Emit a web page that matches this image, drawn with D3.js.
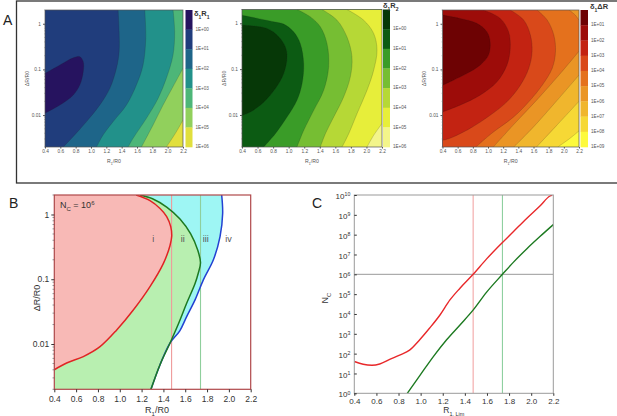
<!DOCTYPE html>
<html>
<head>
<meta charset="utf-8">
<script src="https://cdn.jsdelivr.net/npm/d3@7"></script>
<style>
  html, body { margin: 0; padding: 0; background: #fff; }
  svg { display: block; }
</style>
</head>
<body>
<svg id="fig" width="617" height="416"></svg>
<script>
// ---------------- values ----------------
const x_ticks = [0.4, 0.6, 0.8, 1.0, 1.2, 1.4, 1.6, 1.8, 2.0, 2.2];
const log_ticks = [0.01, 0.1, 1];
const log_tick_labels = ['0.01', '0.1', '1'];

// colour bar labels of panel A
const r1_bar_labels = ['1E+00', '1E+01', '1E+02', '1E+03', '1E+04', '1E+05', '1E+06'];
const r2_bar_labels = ['1E+00', '1E+01', '1E+02', '1E+03', '1E+04', '1E+05', '1E+06'];
const dr_bar_labels = ['1E+01', '1E+02', '1E+03', '1E+04', '1E+05', '1E+06', '1E+07', '1E+08', '1E+09'];

// contour lines [R1/R0, dR/R0]; level = band on the right hand side of the line
const r1_contours = [
  {level: 1, pts: [[0.4, 0.011], [0.595, 0.0166], [0.769, 0.0275], [0.855, 0.046], [0.899, 0.089],
                   [0.899, 0.148], [0.855, 0.19], [0.769, 0.18], [0.595, 0.125], [0.4, 0.082]]},
  {level: 2, pts: [[0.638, 0.002], [0.769, 0.0034], [0.942, 0.0072], [1.115, 0.0166], [1.246, 0.0385],
                   [1.332, 0.106], [1.367, 0.245], [1.367, 0.67], [1.354, 2]]},
  {level: 3, pts: [[1.072, 0.002], [1.159, 0.0037], [1.289, 0.0072], [1.462, 0.0166], [1.593, 0.046],
                   [1.679, 0.125], [1.714, 0.48], [1.701, 2]]},
  {level: 4, pts: [[1.484, 0.002], [1.549, 0.0031], [1.723, 0.0085], [1.874, 0.023], [1.983, 0.064],
                   [2.07, 0.207], [2.091, 0.67], [2.07, 2]]},
  {level: 5, pts: [[1.658, 0.002], [1.81, 0.0061], [1.94, 0.0166], [2.07, 0.042], [2.2, 0.106]]},
  {level: 6, pts: [[1.983, 0.002], [2.113, 0.0043], [2.2, 0.0078]]}
];

const r2_contours = [
  {level: 1, pts: [[0.4, 0.0098], [0.507, 0.0116], [0.679, 0.019], [0.829, 0.0376], [0.936, 0.08],
                   [0.979, 0.185], [0.957, 0.305], [0.871, 0.51], [0.721, 0.77], [0.4, 0.91]]},
  {level: 2, pts: [[0.679, 0.002], [0.829, 0.0039], [0.979, 0.009], [1.107, 0.021], [1.172, 0.048],
                   [1.193, 0.132], [1.15, 0.36], [1.064, 0.65], [0.936, 0.96], [0.807, 1.08], [0.4, 1.5]]},
  {level: 3, pts: [[1.107, 0.002], [1.193, 0.0046], [1.322, 0.0126], [1.45, 0.0345], [1.514, 0.112],
                   [1.493, 0.36], [1.407, 0.84], [1.279, 1.38], [1.107, 2]]},
  {level: 4, pts: [[1.407, 0.002], [1.472, 0.0039], [1.579, 0.009], [1.707, 0.0247], [1.793, 0.068],
                   [1.814, 0.185], [1.75, 0.5], [1.622, 1.17], [1.429, 2]]},
  {level: 5, pts: [[1.686, 0.002], [1.772, 0.0039], [1.879, 0.0107], [2.007, 0.0345], [2.093, 0.095],
                   [2.136, 0.26], [2.093, 0.6], [1.964, 1.17], [1.75, 2]]},
  {level: 6, pts: [[2.007, 0.002], [2.093, 0.0036], [2.2, 0.0065]]}
];

const dr_contours = [
  {level: 1, pts: [[0.4, 0.045], [0.542, 0.058], [0.718, 0.081], [0.895, 0.124], [1.006, 0.206],
                   [1.028, 0.40], [0.984, 0.67], [0.851, 1.02], [0.63, 1.31], [0.4, 1.55]]},
  {level: 2, pts: [[0.4, 0.0117], [0.63, 0.0165], [0.895, 0.0273], [1.116, 0.053], [1.249, 0.124],
                   [1.293, 0.29], [1.271, 0.67], [1.161, 1.31], [0.94, 2]]},
  {level: 3, pts: [[0.4, 0.0028], [0.497, 0.0031], [0.763, 0.0051], [1.028, 0.0099], [1.249, 0.0195],
                   [1.426, 0.045], [1.537, 0.105], [1.581, 0.244], [1.559, 0.565], [1.47, 1.21], [1.293, 2]]},
  {level: 4, pts: [[0.84, 0.002], [1.05, 0.004], [1.338, 0.0091], [1.537, 0.0195], [1.714, 0.045],
                   [1.846, 0.105], [1.89, 0.244], [1.868, 0.565], [1.78, 1.21], [1.647, 2]]},
  {level: 5, pts: [[1.07, 0.002], [1.35, 0.0065], [1.65, 0.022], [1.95, 0.08], [2.2, 0.25]]},
  {level: 5, pts: [[2.2, 1.2], [2.15, 1.55], [2.07, 2]]},
  {level: 6, pts: [[1.34, 0.002], [1.6, 0.0055], [1.9, 0.02], [2.2, 0.075]]},
  {level: 7, pts: [[1.64, 0.002], [1.9, 0.0058], [2.2, 0.02]]},
  {level: 8, pts: [[1.92, 0.002], [2.07, 0.003], [2.2, 0.0045]]}
];

// panel B: region boundaries for Nc = 1e6 [R1/R0, dR/R0], listed top to bottom
const b_red_curve = [[1.15, 2], [1.277, 1.64], [1.369, 1.24], [1.43, 0.93], [1.467, 0.65], [1.476, 0.46],
                     [1.46, 0.33], [1.40, 0.176], [1.277, 0.077], [1.124, 0.0335], [0.972, 0.0165],
                     [0.819, 0.0091], [0.666, 0.0064], [0.513, 0.0051], [0.4, 0.004]];
const b_green_curve = [[1.185, 2], [1.30, 1.75], [1.43, 1.3], [1.552, 0.85], [1.65, 0.5], [1.715, 0.28],
                       [1.74, 0.18], [1.72, 0.125], [1.69, 0.086], [1.613, 0.0425], [1.54, 0.0209],
                       [1.46, 0.0103], [1.369, 0.0048], [1.286, 0.002]];
const b_blue_curve = [[1.934, 2], [1.943, 1.04], [1.919, 0.455], [1.858, 0.2], [1.766, 0.098],
                      [1.69, 0.048], [1.613, 0.0265], [1.55, 0.016], [1.46, 0.0103], [1.369, 0.0048],
                      [1.286, 0.002]];
const b_region_names = ['i', 'ii', 'iii', 'iv'];
const b_region_x = [1.308, 1.577, 1.788, 1.996];
const b_region_y = 0.41;

// limiting R1 for the red and green criteria (panels B and C)
const r1_lim = [1.475, 1.74];
const nc_target = 1e6;

// panel C: Nc against R1,Lim
const nc_ticks = [1, 1e1, 1e2, 1e3, 1e4, 1e5, 1e6, 1e7, 1e8, 1e9, 1e10];
const c_red = [[0.4, 40], [0.48, 29], [0.56, 26], [0.63, 30], [0.72, 51], [0.81, 85], [0.90, 150],
               [0.99, 490], [1.08, 1900], [1.175, 8900], [1.265, 51000], [1.356, 2.0e5], [1.475, 1.0e6],
               [1.597, 6.0e6], [1.717, 3.0e7], [1.838, 1.4e8], [1.959, 6.6e8], [2.079, 2.8e9],
               [2.17, 8.9e9], [2.19, 1.0e10]];
const c_green = [[0.879, 1], [0.994, 8], [1.115, 71], [1.235, 500], [1.356, 2800], [1.476, 16000],
                 [1.597, 1.26e5], [1.74, 1.0e6], [1.838, 4.0e6], [1.959, 1.9e7], [2.079, 8.0e7],
                 [2.2, 3.2e8]];

// ---------------- styles ----------------
const r1_colors = ['#26135f', '#203d7c', '#1e6589', '#22918a', '#4db678', '#91d05c', '#e1df3d'];
const r2_colors = ['#063807', '#0c5b13', '#3a9c28', '#76be33', '#b6d836', '#e7ee3a', '#f3f58a'];
const dr_colors = ['#6d0203', '#9d0c09', '#c32312', '#d9491a', '#e4711d', '#ea9525', '#f0b62d',
                   '#f6d835', '#fdfa3c'];
const font = '"Liberation Sans", Arial, sans-serif';

const svg = d3.select('#fig');
const smooth_line = d3.line().curve(d3.curveCatmullRom.alpha(0.5));
let clip_count = 0;

/**
 * position of a boundary point along the plot perimeter, clockwise from top-left
 */
function perimeter_t(p, r) {
  const eps = 0.6;
  if (Math.abs(p[1] - r.y0) < eps) return (p[0] - r.x0) / (r.x1 - r.x0);
  if (Math.abs(p[0] - r.x1) < eps) return 1 + (p[1] - r.y0) / (r.y1 - r.y0);
  if (Math.abs(p[1] - r.y1) < eps) return 2 + (r.x1 - p[0]) / (r.x1 - r.x0);
  return 3 + (r.y1 - p[1]) / (r.y1 - r.y0);
}

/**
 * closed path: the line, then clockwise round the plot edge back to its start
 */
function region_path(pts, r) {
  const corners = [[r.x0, r.y0], [r.x1, r.y0], [r.x1, r.y1], [r.x0, r.y1]];
  const t_start = perimeter_t(pts[0], r);
  const t_end = perimeter_t(pts[pts.length - 1], r);
  let target = t_start;
  if (target <= t_end) target += 4;
  const extra = [];
  for (let k = Math.floor(t_end) + 1; k < target; k++) extra.push(corners[k % 4]);
  return smooth_line(pts) + extra.map(c => `L${c[0]},${c[1]}`).join('') + 'Z';
}

function add_clip(r) {
  const id = 'clip' + (clip_count++);
  svg.append('clipPath').attr('id', id)
    .append('rect')
    .attr('x', r.x0).attr('y', r.y0)
    .attr('width', r.x1 - r.x0).attr('height', r.y1 - r.y0);
  return `url(#${id})`;
}

function style_axis(g, size, color) {
  g.attr('font-family', font).attr('font-size', size);
  g.select('.domain').remove();
  g.selectAll('.tick line').attr('stroke', color);
  g.selectAll('.tick text').attr('fill', color);
}

// text with sub / superscript parts: [[text, 'sub'|'sup'|null], ...]
function rich_text(sel, parts, small) {
  parts.forEach(([t, kind]) => {
    const ts = sel.append('tspan').text(t);
    if (kind === 'sub') ts.attr('font-size', small).attr('baseline-shift', 'sub');
    if (kind === 'sup') ts.attr('font-size', small).attr('baseline-shift', 'super');
  });
  return sel;
}

function minor_log_ticks(y, majors) {
  return y.ticks().filter(v => !majors.some(m => Math.abs(v - m) / m < 1e-6));
}

// ---------------- panel A box ----------------
svg.append('rect')
  .attr('x', 16.5).attr('y', 1).attr('width', 610).attr('height', 182)
  .attr('fill', 'none').attr('stroke', '#333').attr('stroke-width', 1.3);
svg.append('text').attr('x', 3).attr('y', 25)
  .attr('font-family', font).attr('font-size', 14).attr('fill', '#222').text('A');

// ---------------- panel A contour maps ----------------
const a_panels = [
  {rect: {x0: 45, y0: 10, x1: 183, y1: 147}, bar: [185.5, 192.5], contours: r1_contours,
   colors: r1_colors, labels: r1_bar_labels, title: [['δ', null], ['1', 'sub'], ['R', null], ['1', 'sub']],
   title_xy: [194, 16]},
  {rect: {x0: 242, y0: 9.5, x1: 382, y1: 147}, bar: [383, 390], contours: r2_contours,
   colors: r2_colors, labels: r2_bar_labels, title: [['δ', null], ['1', 'sub'], ['R', null], ['2', 'sub']],
   title_xy: [383, 8]},
  {rect: {x0: 442.5, y0: 10, x1: 579, y1: 147}, bar: [580.5, 588], contours: dr_contours,
   colors: dr_colors, labels: dr_bar_labels, title: [['δ', null], ['1', 'sub'], ['ΔR', null]],
   title_xy: [590, 9]}
];

function draw_contour_panel(cfg) {
  const r = cfg.rect;
  const x = d3.scaleLinear().domain([0.4, 2.2]).range([r.x0, r.x1]);
  const y = d3.scaleLog().domain([0.002, 2]).range([r.y1, r.y0]);
  const plot = svg.append('g').attr('clip-path', add_clip(r));

  // lowest band underneath, higher bands painted over it
  plot.append('rect')
    .attr('x', r.x0).attr('y', r.y0).attr('width', r.x1 - r.x0).attr('height', r.y1 - r.y0)
    .attr('fill', cfg.colors[0]);
  cfg.contours.forEach(c => {
    const pts = c.pts.map(d => [x(d[0]), y(d[1])]);
    plot.append('path').attr('d', region_path(pts, r)).attr('fill', cfg.colors[c.level]);
  });
  cfg.contours.forEach(c => {
    plot.append('path')
      .attr('d', smooth_line(c.pts.map(d => [x(d[0]), y(d[1])])))
      .attr('fill', 'none').attr('stroke', 'rgba(30,30,30,0.35)').attr('stroke-width', 0.5);
  });
  svg.append('rect')
    .attr('x', r.x0).attr('y', r.y0).attr('width', r.x1 - r.x0).attr('height', r.y1 - r.y0)
    .attr('fill', 'none').attr('stroke', '#555').attr('stroke-width', 0.7);

  // axes
  const gx = svg.append('g').attr('transform', `translate(0,${r.y1})`)
    .call(d3.axisBottom(x).tickValues(x_ticks).tickSize(1.5).tickPadding(1.5)
      .tickFormat(d3.format('.1f')));
  style_axis(gx, 4.8, '#555');
  const gy = svg.append('g').attr('transform', `translate(${r.x0},0)`)
    .call(d3.axisLeft(y).tickValues(log_ticks).tickSize(2).tickPadding(2)
      .tickFormat((d, i) => log_tick_labels[i]));
  style_axis(gy, 4.8, '#555');
  svg.append('g').selectAll('line')
    .data(minor_log_ticks(y, log_ticks))
    .join('line')
    .attr('x1', r.x0 - 1).attr('x2', r.x0)
    .attr('y1', d => y(d)).attr('y2', d => y(d))
    .attr('stroke', '#777').attr('stroke-width', 0.4);

  rich_text(svg.append('text')
    .attr('x', (r.x0 + r.x1) / 2).attr('y', 163)
    .attr('text-anchor', 'middle').attr('font-family', font).attr('font-size', 5.2).attr('fill', '#555'),
    [['R', null], ['1', 'sub'], ['/R0', null]], 3.6);
  svg.append('text')
    .attr('transform', `translate(${r.x0 - 16.5},${(r.y0 + r.y1) / 2}) rotate(-90)`)
    .attr('text-anchor', 'middle').attr('font-family', font).attr('font-size', 5.2).attr('fill', '#555')
    .text('ΔR/R0');

  // colour bar
  const n = cfg.colors.length;
  const yb = d3.scaleLinear().domain([0, n]).range([r.y0, r.y1]);
  svg.append('g').selectAll('rect')
    .data(cfg.colors)
    .join('rect')
    .attr('x', cfg.bar[0]).attr('width', cfg.bar[1] - cfg.bar[0])
    .attr('y', (d, i) => yb(i)).attr('height', (d, i) => yb(i + 1) - yb(i) + 0.3)
    .attr('fill', d => d);
  svg.append('g').selectAll('text')
    .data(cfg.labels)
    .join('text')
    .attr('x', cfg.bar[1] + 3).attr('y', (d, i) => yb(i + 1))
    .attr('dominant-baseline', 'middle')
    .attr('font-family', font).attr('font-size', 4.6).attr('fill', '#555')
    .text(d => d);
  rich_text(svg.append('text')
    .attr('x', cfg.title_xy[0]).attr('y', cfg.title_xy[1])
    .attr('font-family', font).attr('font-size', 7.5).attr('font-weight', 'bold').attr('fill', '#333'),
    cfg.title, 5);
}

a_panels.forEach(draw_contour_panel);

// ---------------- panel B ----------------
function draw_panel_b() {
  const r = {x0: 54.3, y0: 195, x1: 250.7, y1: 389.3};
  const x = d3.scaleLinear().domain([0.4, 2.2]).range([r.x0, r.x1]);
  const y = d3.scaleLog().domain([0.002, 2]).range([r.y1, r.y0]);
  const to_px = pts => pts.map(d => [x(d[0]), y(d[1])]);
  const plot = svg.append('g').attr('clip-path', add_clip(r));

  plot.append('path').attr('d', region_path(to_px(b_blue_curve), r)).attr('fill', '#9ef6f4');
  plot.append('path').attr('d', region_path(to_px(b_green_curve), r)).attr('fill', '#b8efb0');
  plot.append('path').attr('d', region_path(to_px(b_red_curve), r)).attr('fill', '#f8b9b6');

  plot.selectAll('line.lim')
    .data(r1_lim)
    .join('line')
    .attr('x1', d => x(d)).attr('x2', d => x(d))
    .attr('y1', r.y0).attr('y2', r.y1)
    .attr('stroke', (d, i) => ['#ef9a9a', '#8fcf9c'][i]).attr('stroke-width', 1.1);

  plot.append('path').attr('d', smooth_line(to_px(b_blue_curve)))
    .attr('fill', 'none').attr('stroke', '#2342d2').attr('stroke-width', 1.5);
  plot.append('path').attr('d', smooth_line(to_px(b_green_curve)))
    .attr('fill', 'none').attr('stroke', '#1d7a21').attr('stroke-width', 1.5);
  plot.append('path').attr('d', smooth_line(to_px(b_red_curve)))
    .attr('fill', 'none').attr('stroke', '#e02424').attr('stroke-width', 1.5);

  svg.append('g').selectAll('text')
    .data(b_region_names)
    .join('text')
    .attr('x', (d, i) => x(b_region_x[i])).attr('y', y(b_region_y))
    .attr('text-anchor', 'middle').attr('dominant-baseline', 'middle')
    .attr('font-family', font).attr('font-size', 9).attr('fill', '#555')
    .text(d => d);

  rich_text(svg.append('text').attr('x', 60).attr('y', 208)
    .attr('font-family', font).attr('font-size', 9).attr('fill', '#333'),
    [['N', null], ['C', 'sub'], [' = 10', null], ['6', 'sup']], 6);

  svg.append('rect')
    .attr('x', r.x0).attr('y', r.y0).attr('width', r.x1 - r.x0).attr('height', r.y1 - r.y0)
    .attr('fill', 'none').attr('stroke', '#b0484a').attr('stroke-width', 1.2);

  const gx = svg.append('g').attr('transform', `translate(0,${r.y1})`)
    .call(d3.axisBottom(x).tickValues(x_ticks).tickSize(3).tickPadding(3.5)
      .tickFormat(d3.format('.1f')));
  style_axis(gx, 8.5, '#333');
  const gy = svg.append('g').attr('transform', `translate(${r.x0},0)`)
    .call(d3.axisLeft(y).tickValues(log_ticks).tickSize(3).tickPadding(2)
      .tickFormat((d, i) => log_tick_labels[i]));
  style_axis(gy, 8.5, '#333');
  svg.append('g').selectAll('line')
    .data(minor_log_ticks(y, log_ticks))
    .join('line')
    .attr('x1', r.x0 - 1.8).attr('x2', r.x0)
    .attr('y1', d => y(d)).attr('y2', d => y(d))
    .attr('stroke', '#555').attr('stroke-width', 0.6);

  rich_text(svg.append('text').attr('x', 157).attr('y', 413)
    .attr('text-anchor', 'middle').attr('font-family', font).attr('font-size', 9).attr('fill', '#333'),
    [['R', null], ['1', 'sub'], ['/R0', null]], 6);
  svg.append('text')
    .attr('transform', `translate(40,298) rotate(-90)`)
    .attr('text-anchor', 'middle').attr('font-family', font).attr('font-size', 9).attr('fill', '#333')
    .text('ΔR/R0');
  svg.append('text').attr('x', 9).attr('y', 208)
    .attr('font-family', font).attr('font-size', 14).attr('fill', '#222').text('B');
}

draw_panel_b();

// ---------------- panel C ----------------
function draw_panel_c() {
  const r = {x0: 354.3, y0: 195, x1: 553.3, y1: 393.3};
  const x = d3.scaleLinear().domain([0.4, 2.2]).range([r.x0, r.x1]);
  const y = d3.scaleLog().domain([1, 1e10]).range([r.y1, r.y0]);
  const plot = svg.append('g').attr('clip-path', add_clip(r));
  const line = d3.line().x(d => x(d[0])).y(d => y(d[1])).curve(d3.curveMonotoneX);

  plot.selectAll('line.lim')
    .data(r1_lim)
    .join('line')
    .attr('x1', d => x(d)).attr('x2', d => x(d))
    .attr('y1', r.y0).attr('y2', r.y1)
    .attr('stroke', (d, i) => ['#f2a6a6', '#8fd0a0'][i]).attr('stroke-width', 1.1);
  plot.append('line')
    .attr('x1', r.x0).attr('x2', r.x1).attr('y1', y(nc_target)).attr('y2', y(nc_target))
    .attr('stroke', '#9a9a9a').attr('stroke-width', 1);

  plot.append('path').attr('d', line(c_green))
    .attr('fill', 'none').attr('stroke', '#1d7a21').attr('stroke-width', 1.4);
  plot.append('path').attr('d', line(c_red))
    .attr('fill', 'none').attr('stroke', '#e8282a').attr('stroke-width', 1.4);

  svg.append('rect')
    .attr('x', r.x0).attr('y', r.y0).attr('width', r.x1 - r.x0).attr('height', r.y1 - r.y0)
    .attr('fill', 'none').attr('stroke', '#9a9a9a').attr('stroke-width', 1);

  const gx = svg.append('g').attr('transform', `translate(0,${r.y1})`)
    .call(d3.axisBottom(x).tickValues(x_ticks).tickSize(2.5).tickPadding(2.5)
      .tickFormat(d3.format('.1f')));
  style_axis(gx, 8, '#333');
  const gy = svg.append('g').attr('transform', `translate(${r.x0},0)`)
    .call(d3.axisLeft(y).tickValues(nc_ticks).tickSize(-2.5).tickPadding(4).tickFormat(''));
  style_axis(gy, 8, '#333');
  gy.selectAll('.tick text')
    .text('10')
    .append('tspan')
    .attr('dy', '-0.55em').attr('font-size', 5.2)
    .text(d => Math.round(Math.log10(d)));
  gy.selectAll('.tick text').attr('dy', '0.45em');

  rich_text(svg.append('text').attr('x', (r.x0 + r.x1) / 2).attr('y', 412.5)
    .attr('text-anchor', 'middle').attr('font-family', font).attr('font-size', 8.5).attr('fill', '#333'),
    [['R', null], ['1, Lim', 'sub']], 5.5);
  rich_text(svg.append('text')
    .attr('transform', `translate(328,298) rotate(-90)`)
    .attr('text-anchor', 'middle').attr('font-family', font).attr('font-size', 9).attr('fill', '#333'),
    [['N', null], ['C', 'sub']], 6);
  svg.append('text').attr('x', 312).attr('y', 208)
    .attr('font-family', font).attr('font-size', 14).attr('fill', '#222').text('C');
}

draw_panel_c();
</script>
</body>
</html>
